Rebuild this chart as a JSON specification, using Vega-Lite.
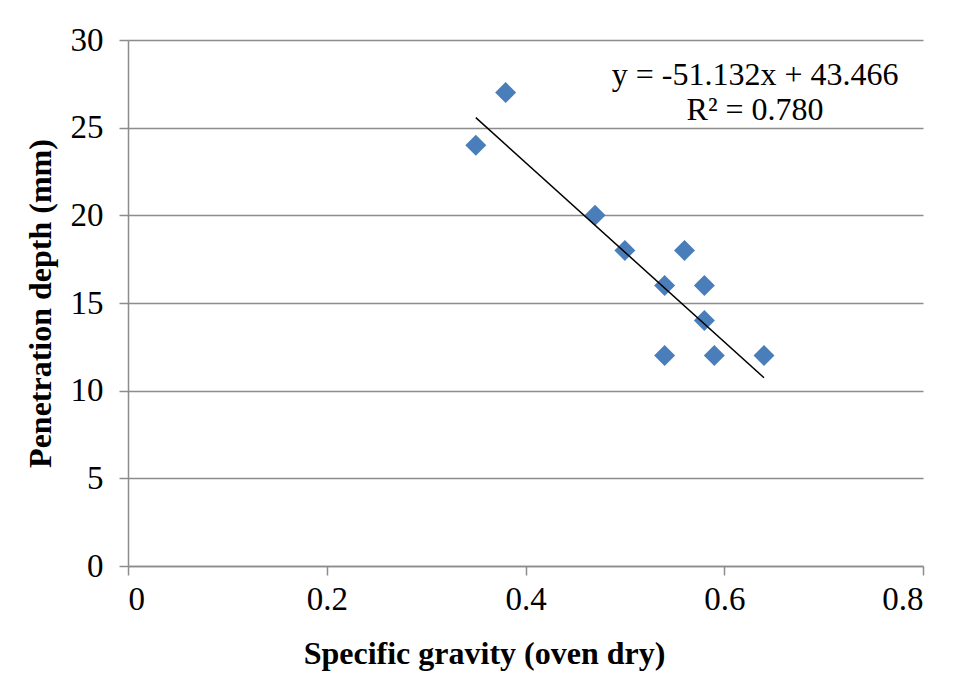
{
  "$schema": "https://vega.github.io/schema/vega-lite/v6.json",
  "width": 795,
  "height": 526,
  "autosize": {"type": "none"},
  "padding": {"left": 128, "top": 40, "right": 39, "bottom": 132},
  "background": "white",
  "config": {
    "view": {"stroke": null},
    "font": "Liberation Serif",
    "axis": {
      "labelFont": "Liberation Serif",
      "titleFont": "Liberation Serif",
      "labelColor": "black",
      "titleColor": "black",
      "domainColor": "#8c8c8c",
      "tickColor": "#8c8c8c",
      "gridColor": "#8c8c8c",
      "domainWidth": 1.5,
      "tickWidth": 1.5,
      "gridWidth": 1.5,
      "tickSize": 9
    }
  },
  "datasets": {
    "points": [
      {"sg": 0.35, "depth": 24},
      {"sg": 0.38, "depth": 27},
      {"sg": 0.47, "depth": 20},
      {"sg": 0.50, "depth": 18},
      {"sg": 0.54, "depth": 16},
      {"sg": 0.54, "depth": 12},
      {"sg": 0.56, "depth": 18},
      {"sg": 0.58, "depth": 16},
      {"sg": 0.58, "depth": 14},
      {"sg": 0.59, "depth": 12},
      {"sg": 0.64, "depth": 12}
    ],
    "trend": [
      {"sg": 0.35, "depth": 25.57},
      {"sg": 0.64, "depth": 10.74}
    ],
    "labels": [
      {"lx": 0.631, "ly": 28.0, "label": "y = -51.132x + 43.466"},
      {"lx": 0.631, "ly": 26.0, "label": "R² = 0.780"}
    ]
  },
  "layer": [
    {
      "data": {"name": "points"},
      "mark": {"type": "point", "shape": "diamond", "filled": true, "size": 440, "color": "#4a7ebb", "opacity": 1},
      "encoding": {
        "x": {
          "field": "sg", "type": "quantitative",
          "scale": {"domain": [0, 0.8], "nice": false},
          "axis": {
            "values": [0, 0.2, 0.4, 0.6, 0.8], "format": "~g", "grid": false,
            "labelFontSize": 33, "labelPadding": 8,
            "title": "Specific gravity (oven dry)", "titleFontSize": 32, "titleFontWeight": "bold",
            "titlePadding": 22, "titleX": 356
          }
        },
        "y": {
          "field": "depth", "type": "quantitative",
          "scale": {"domain": [0, 30], "nice": false},
          "axis": {
            "values": [0, 5, 10, 15, 20, 25, 30], "grid": true,
            "labelFontSize": 33, "labelPadding": 16,
            "title": "Penetration depth (mm)", "titleFontSize": 32, "titleFontWeight": "bold",
            "titlePadding": 13
          }
        }
      }
    },
    {
      "data": {"name": "trend"},
      "mark": {"type": "line", "color": "black", "strokeWidth": 1.5},
      "encoding": {
        "x": {"field": "sg", "type": "quantitative"},
        "y": {"field": "depth", "type": "quantitative"}
      }
    },
    {
      "data": {"name": "labels"},
      "mark": {"type": "text", "fontSize": 32, "font": "Liberation Serif", "color": "black", "align": "center", "baseline": "middle"},
      "encoding": {
        "x": {"field": "lx", "type": "quantitative"},
        "y": {"field": "ly", "type": "quantitative"},
        "text": {"field": "label"}
      }
    }
  ]
}
